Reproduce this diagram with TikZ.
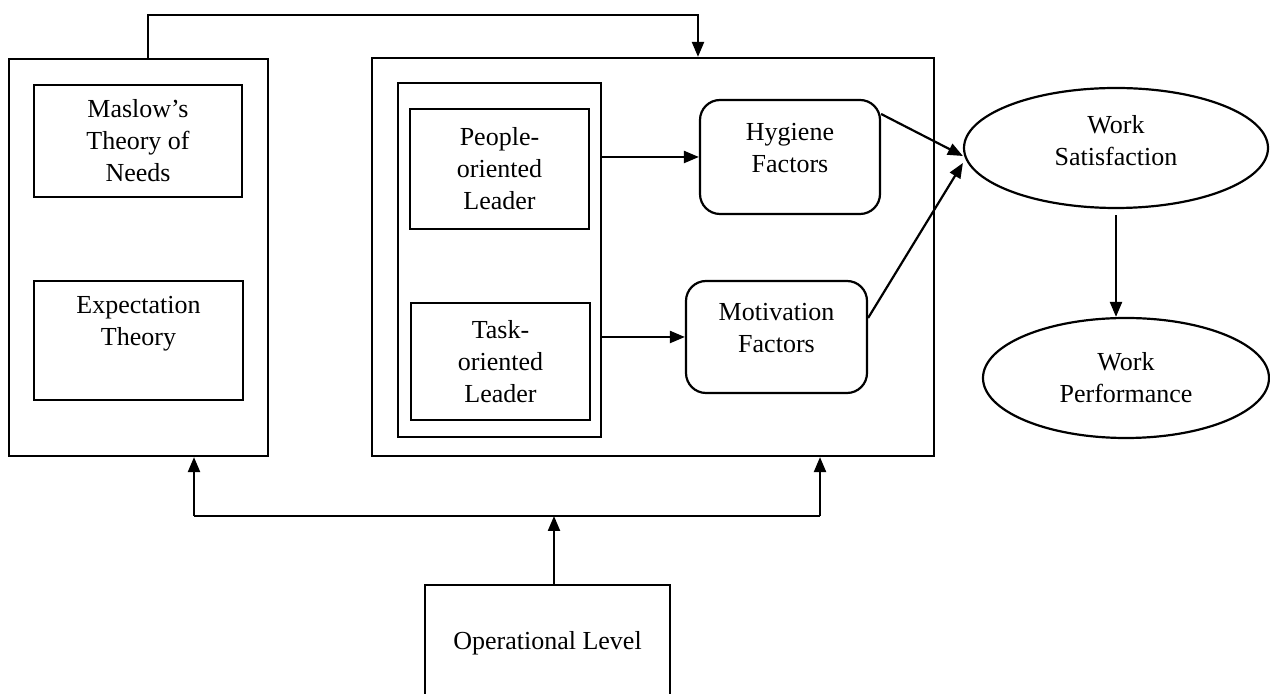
\documentclass[tikz,border=0pt]{standalone}
\usepackage{fontspec}
\setmainfont{Liberation Serif}
\usetikzlibrary{arrows.meta,shapes.geometric}
\begin{document}
\begin{tikzpicture}[x=0.5pt,y=-0.5pt,
  every node/.style={font=\fontsize{13}{16}\selectfont, align=center, inner sep=0pt},
  box/.style={draw, line width=1.1pt, rectangle},
  rbox/.style={draw, line width=1.1pt, rectangle, rounded corners=10pt},
  ell/.style={draw, line width=1.1pt, ellipse},
  conn/.style={line width=1.1pt},
  arr/.style={line width=1.1pt, -{Triangle[length=7.5pt,width=6pt]}}]
\clip (0,0) rectangle (1270,694);
\useasboundingbox (0,0) rectangle (1270,694);
% left group
\node[box, minimum width=129.5pt, minimum height=198.5pt] (lo) at (138.5,257.5) {};
\node[box, minimum width=104pt, minimum height=56pt] (mas) at (138,141) {Maslow’s\\Theory of\\Needs};
\node[box, minimum width=104.5pt, minimum height=59.5pt] (exp) at (138.5,340.5) {};
\node (expT) at (138.5,324) {Expectation\\Theory};
% middle group
\node[box, minimum width=281pt, minimum height=199pt] (mo) at (653,257) {};
\node[box, minimum width=101.5pt, minimum height=177pt] (inner) at (499.5,260) {};
\node[box, minimum width=89.5pt, minimum height=60pt] (people) at (499.5,169) {People-\\oriented\\Leader};
\node[box, minimum width=89.5pt, minimum height=58.5pt] (task) at (500.5,361.5) {Task-\\oriented\\Leader};
\node[rbox, minimum width=90pt, minimum height=57pt] (hyg) at (790,157) {};
\node (hygT) at (790,148) {Hygiene\\Factors};
\node[rbox, minimum width=90.5pt, minimum height=56pt] (mot) at (776.5,337) {};
\node (motT) at (776.5,328) {Motivation\\Factors};
% right ellipses
\node[ell, minimum width=152pt, minimum height=60pt] (sat) at (1116,148) {};
\node (satT) at (1116,141) {Work\\Satisfaction};
\node[ell, minimum width=143pt, minimum height=60pt] (perf) at (1126,378) {Work\\Performance};
% bottom
\node[box, minimum width=122.5pt, minimum height=58pt] (op) at (547.5,643) {Operational Level};
% connectors
\coordinate (topL) at (148,15);
\coordinate (topR) at (698,15);
\draw[arr] (lo.north -| topL) -- (topL) -- (topR) -- (mo.north -| topR);
\coordinate (bl) at (194,516);
\coordinate (br) at (820,516);
\coordinate (bm) at (554,516);
\draw[conn] (bl) -- (br);
\draw[arr] (bl) -- (lo.south -| bl);
\draw[arr] (br) -- (mo.south -| br);
\draw[arr] (op.north -| bm) -- (bm);
\draw[arr] (inner.east |- hyg) -- (hyg.west);
\draw[arr] (inner.east |- mot) -- (mot.west);
\draw[arr] ([yshift=21.5pt]hyg.east) -- ([yshift=-4pt]sat.west);
\draw[arr] ([yshift=9.5pt]mot.east) -- ([yshift=-7.5pt]sat.west);
\draw[arr] ([yshift=-3pt]sat.south) -- (sat.south |- perf.north);
\end{tikzpicture}
\end{document}
